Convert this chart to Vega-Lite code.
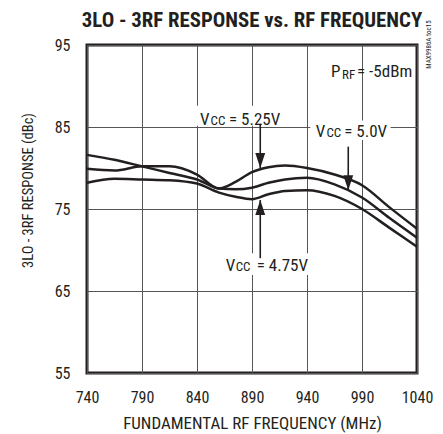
{
  "$schema": "https://vega.github.io/schema/vega-lite/v6.json",
  "width": 330,
  "height": 328,
  "autosize": "none",
  "padding": {"left": 87, "top": 45, "right": 26, "bottom": 61},
  "background": "white",
  "title": {
    "text": "3LO - 3RF RESPONSE vs. RF FREQUENCY",
    "font": "Roboto Condensed, Liberation Sans Narrow, DejaVu Sans Condensed, sans-serif",
    "fontSize": 20.8,
    "fontWeight": "bold",
    "color": "#231f20",
    "anchor": "middle",
    "frame": "group",
    "baseline": "alphabetic",
    "offset": 0,
    "dy": 27.3
  },
  "datasets": {
    "curves": [
      {"f": 740, "r": 79.9, "vcc": "5.25V"},
      {"f": 765, "r": 79.7, "vcc": "5.25V"},
      {"f": 790, "r": 80.2, "vcc": "5.25V"},
      {"f": 815, "r": 80.2, "vcc": "5.25V"},
      {"f": 840, "r": 79.2, "vcc": "5.25V"},
      {"f": 860, "r": 77.5, "vcc": "5.25V"},
      {"f": 875, "r": 78.3, "vcc": "5.25V"},
      {"f": 890, "r": 79.5, "vcc": "5.25V"},
      {"f": 905, "r": 80.1, "vcc": "5.25V"},
      {"f": 920, "r": 80.3, "vcc": "5.25V"},
      {"f": 940, "r": 80.0, "vcc": "5.25V"},
      {"f": 965, "r": 79.2, "vcc": "5.25V"},
      {"f": 990, "r": 77.9, "vcc": "5.25V"},
      {"f": 1015, "r": 75.2, "vcc": "5.25V"},
      {"f": 1040, "r": 72.6, "vcc": "5.25V"},
      {"f": 740, "r": 81.6, "vcc": "5.0V"},
      {"f": 765, "r": 81.0, "vcc": "5.0V"},
      {"f": 790, "r": 80.2, "vcc": "5.0V"},
      {"f": 815, "r": 79.4, "vcc": "5.0V"},
      {"f": 840, "r": 78.6, "vcc": "5.0V"},
      {"f": 860, "r": 77.5, "vcc": "5.0V"},
      {"f": 875, "r": 77.4, "vcc": "5.0V"},
      {"f": 890, "r": 77.6, "vcc": "5.0V"},
      {"f": 905, "r": 78.2, "vcc": "5.0V"},
      {"f": 920, "r": 78.6, "vcc": "5.0V"},
      {"f": 940, "r": 78.8, "vcc": "5.0V"},
      {"f": 965, "r": 78.0, "vcc": "5.0V"},
      {"f": 990, "r": 76.4, "vcc": "5.0V"},
      {"f": 1015, "r": 73.9, "vcc": "5.0V"},
      {"f": 1040, "r": 71.5, "vcc": "5.0V"},
      {"f": 740, "r": 78.2, "vcc": "4.75V"},
      {"f": 765, "r": 78.7, "vcc": "4.75V"},
      {"f": 790, "r": 78.6, "vcc": "4.75V"},
      {"f": 815, "r": 78.5, "vcc": "4.75V"},
      {"f": 840, "r": 78.1, "vcc": "4.75V"},
      {"f": 860, "r": 77.0, "vcc": "4.75V"},
      {"f": 875, "r": 76.5, "vcc": "4.75V"},
      {"f": 890, "r": 76.2, "vcc": "4.75V"},
      {"f": 905, "r": 76.8, "vcc": "4.75V"},
      {"f": 920, "r": 77.2, "vcc": "4.75V"},
      {"f": 940, "r": 77.3, "vcc": "4.75V"},
      {"f": 965, "r": 76.6, "vcc": "4.75V"},
      {"f": 990, "r": 75.0, "vcc": "4.75V"},
      {"f": 1015, "r": 72.7, "vcc": "4.75V"},
      {"f": 1040, "r": 70.4, "vcc": "4.75V"}
    ],
    "boxes": [
      {"x1": 840, "x2": 919, "y1": 85.15, "y2": 87.6},
      {"x1": 943, "x2": 1016, "y1": 83.4, "y2": 85.8},
      {"x1": 863, "x2": 943, "y1": 66.95, "y2": 69.6}
    ],
    "arrows": [
      {"x": 897.5, "from": 85.4, "tip": 80.0, "dir": "down"},
      {"x": 977.5, "from": 82.6, "tip": 77.3, "dir": "down"},
      {"x": 897.5, "from": 69.0, "tip": 76.1, "dir": "up"}
    ],
    "bigtext": [
      {"t": "V", "x": 842.7, "y": 85.24},
      {"t": "= 5.25V", "x": 869.1, "y": 85.24},
      {"t": "V", "x": 947.9, "y": 83.82},
      {"t": "= 5.0V", "x": 973.9, "y": 83.82},
      {"t": "V", "x": 866.1, "y": 67.4},
      {"t": "= 4.75V", "x": 894.3, "y": 67.4},
      {"t": "P", "x": 961.8, "y": 91.1},
      {"t": "= -5dBm", "x": 985.5, "y": 91.1}
    ],
    "smalltext": [
      {"t": "CC", "x": 852.3, "y": 85.24},
      {"t": "CC", "x": 957.7, "y": 83.82},
      {"t": "CC", "x": 875.2, "y": 67.4},
      {"t": "RF", "x": 971.8, "y": 90.8}
    ],
    "note": [
      {"t": "MAX9986A toc15", "x": 1051, "y": 95.06}
    ]
  },
  "layer": [
    {
      "data": {"name": "boxes"},
      "mark": {"type": "rect", "fill": "white", "stroke": null},
      "encoding": {
        "x": {"field": "x1", "type": "quantitative", "scale": {"domain": [740, 1040], "nice": false, "zero": false},
          "axis": {"title": "FUNDAMENTAL RF FREQUENCY (MHz)", "values": [740, 790, 840, 890, 940, 990, 1040], "format": "d", "grid": true, "labelPadding": 16.1, "titleFontSize": 17, "titleBaseline": "alphabetic", "titleY": 55.3, "titleAnchor": "middle"}},
        "x2": {"field": "x2"},
        "y": {"field": "y1", "type": "quantitative", "scale": {"domain": [55, 95], "nice": false, "zero": false},
          "axis": {"title": "3LO - 3RF RESPONSE (dBc)", "values": [55, 65, 75, 85, 95], "format": "d", "grid": true, "labelPadding": 17, "titleFontSize": 14.5, "titleBaseline": "alphabetic", "titleAngle": -90, "titleX": -54.3, "titleY": 145, "titleAlign": "center"}},
        "y2": {"field": "y2"}
      }
    },
    {
      "data": {"name": "curves"},
      "mark": {"type": "line", "interpolate": "monotone", "strokeWidth": 2.5, "color": "#231f20"},
      "encoding": {
        "x": {"field": "f", "type": "quantitative"},
        "y": {"field": "r", "type": "quantitative"},
        "detail": {"field": "vcc", "type": "nominal"}
      }
    },
    {
      "data": {"name": "arrows"},
      "mark": {"type": "rule", "strokeWidth": 1.6, "color": "#231f20"},
      "encoding": {
        "x": {"field": "x", "type": "quantitative"},
        "y": {"field": "from", "type": "quantitative"},
        "y2": {"field": "tip"}
      }
    },
    {
      "data": {"name": "arrows"},
      "mark": {"type": "point", "filled": true, "size": 900, "color": "#231f20", "opacity": 1, "strokeWidth": 0},
      "encoding": {
        "x": {"field": "x", "type": "quantitative"},
        "y": {"field": "tip", "type": "quantitative"},
        "shape": {"field": "dir", "type": "nominal", "scale": {"domain": ["down", "up"], "range": ["M-0.33,-1L0.33,-1L0,0Z", "M-0.33,1L0.33,1L0,0Z"]}, "legend": null}
      }
    },
    {
      "data": {"name": "bigtext"},
      "mark": {"type": "text", "align": "left", "baseline": "alphabetic", "fontSize": 17, "color": "#231f20"},
      "encoding": {
        "x": {"field": "x", "type": "quantitative"},
        "y": {"field": "y", "type": "quantitative"},
        "text": {"field": "t", "type": "nominal"}
      }
    },
    {
      "data": {"name": "smalltext"},
      "mark": {"type": "text", "align": "left", "baseline": "alphabetic", "fontSize": 13, "color": "#231f20"},
      "encoding": {
        "x": {"field": "x", "type": "quantitative"},
        "y": {"field": "y", "type": "quantitative"},
        "text": {"field": "t", "type": "nominal"}
      }
    },
    {
      "data": {"name": "note"},
      "mark": {"type": "text", "align": "center", "baseline": "middle", "fontSize": 7, "angle": 270, "color": "#231f20"},
      "encoding": {
        "x": {"field": "x", "type": "quantitative"},
        "y": {"field": "y", "type": "quantitative"},
        "text": {"field": "t", "type": "nominal"}
      }
    }
  ],
  "config": {
    "view": {"stroke": "#231f20", "strokeWidth": 3},
    "axis": {
      "gridColor": "#555555",
      "gridWidth": 1,
      "gridOpacity": 1,
      "domain": false,
      "ticks": false,
      "tickSize": 0,
      "labelFont": "Roboto Condensed, Liberation Sans Narrow, DejaVu Sans Condensed, sans-serif",
      "labelFontSize": 16,
      "labelColor": "#231f20",
      "labelFlush": false,
      "labelOverlap": false,
      "titleFont": "Roboto Condensed, Liberation Sans Narrow, DejaVu Sans Condensed, sans-serif",
      "titleFontWeight": "normal",
      "titleColor": "#231f20"
    },
    "text": {"font": "Roboto Condensed, Liberation Sans Narrow, DejaVu Sans Condensed, sans-serif"}
  }
}
